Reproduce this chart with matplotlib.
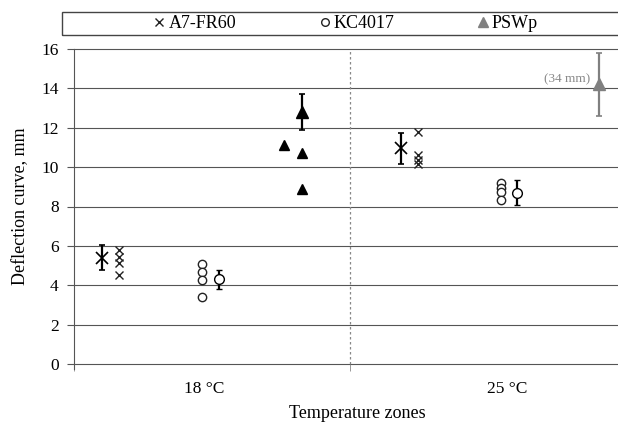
import matplotlib
matplotlib.use("Agg")
import matplotlib.pyplot as plt
from matplotlib.lines import Line2D
from matplotlib.patches import Rectangle

plt.rcParams['font.family'] = ['Liberation Serif', 'DejaVu Serif']

# zone labels and where they sit on the x axis (zone 0 spans 0..1, zone 1 spans 1..2)
zones = ['18 °C', '25 °C']
zone_label_x = [0.47, 1.57]

# A7-FR60 : individual results and mean +/- spread
a7_18 = [5.8, 5.45, 5.15, 4.5]
a7_25 = [11.8, 10.6, 10.35, 10.15]
a7_ind_x = [0.164, 1.245]
a7_mean = [5.4, 10.95]
a7_err = [0.65, 0.8]
a7_mean_x = [0.100, 1.185]

# KC4017
kc_18 = [5.1, 4.65, 4.25, 3.4]
kc_25 = [9.2, 8.95, 8.75, 8.35]
kc_ind_x = [0.465, 1.546]
kc_mean = [4.3, 8.7]
kc_err = [0.5, 0.63]
kc_mean_x = [0.526, 1.606]

# PSWp (only 18 °C individual points visible, 25 °C mean is off scale -> 34 mm)
psw_18 = [11.1, 10.7, 8.9]
psw_18_x = [0.762, 0.825, 0.825]
psw_mean = [12.8, 14.2]
psw_err = [0.9, 1.6]
psw_mean_x = [0.825, 1.902]
psw_note = '(34 mm)'

fig = plt.figure(figsize=(6.18, 4.22), dpi=100)
ax = fig.add_axes([74/618, 58/422, 544/618, 315/422])

grid_c = '#555555'
for y in range(0, 17, 2):
    ax.axhline(y, color=grid_c, lw=0.8, zorder=1, clip_on=False)
ax.axvline(1.0, color='#888888', lw=0.9, ls=(0, (2, 2)), zorder=1)

# individual results
for xs, vals in [(a7_ind_x[0], a7_18), (a7_ind_x[1], a7_25)]:
    ax.plot([xs] * len(vals), vals, ls='none', marker='x', ms=6, mew=1.0,
            color='#222222', zorder=3)
for xs, vals in [(kc_ind_x[0], kc_18), (kc_ind_x[1], kc_25)]:
    ax.plot([xs] * len(vals), vals, ls='none', marker='o', ms=6, mew=1.0,
            mfc='white', color='#222222', zorder=3)
ax.plot(psw_18_x, psw_18, ls='none', marker='^', ms=6.5, color='black', zorder=3)

# means with error bars
ax.errorbar(a7_mean_x, a7_mean, yerr=a7_err, fmt='x', ms=8, mew=1.2,
            color='black', ecolor='black', elinewidth=1.6, capsize=2.5,
            capthick=1.2, zorder=4)
ax.errorbar(kc_mean_x, kc_mean, yerr=kc_err, fmt='o', ms=7, mew=1.0,
            mfc='white', color='black', ecolor='black', elinewidth=1.6,
            capsize=2.5, capthick=1.2, zorder=4)
ax.errorbar(psw_mean_x[:1], psw_mean[:1], yerr=psw_err[:1], fmt='^', ms=8,
            color='black', ecolor='black', elinewidth=1.6, capsize=2.5,
            capthick=1.2, zorder=4)
ax.errorbar(psw_mean_x[1:], psw_mean[1:], yerr=psw_err[1:], fmt='^', ms=8,
            color='#808080', ecolor='#808080', elinewidth=1.6, capsize=2.5,
            capthick=1.2, zorder=4)
ax.text(psw_mean_x[1] - 0.032, psw_mean[1] + 0.25, psw_note, ha='right',
        va='center', fontsize=9.5, color='#8a8a8a')

ax.set_xlim(0, 544/276)
ax.set_ylim(0, 16)
ax.set_yticks(range(0, 17, 2))
ax.set_xticks(zone_label_x)
ax.set_xticklabels(zones)
ax.set_xticks([0, 1], minor=True)
ax.tick_params(axis='x', which='major', length=0, labelsize=12.5, pad=12)
ax.tick_params(axis='x', which='minor', length=5, color='#888888')
ax.tick_params(axis='y', length=5, color='#555555', labelsize=12.5, pad=6)
for s in ['top', 'right', 'bottom']:
    ax.spines[s].set_visible(False)
ax.spines['left'].set_color('#555555')
ax.spines['left'].set_bounds(-0.25, 16)
ax.set_ylabel('Deflection curve, mm', fontsize=13, labelpad=9)
fig.text(357/618, 1 - 413/422, 'Temperature zones', ha='center', va='center',
         fontsize=13)

# legend box across the top
fig.patches.append(Rectangle((62/618, 1 - 35/422), 0.99, 23/422,
                             transform=fig.transFigure, fill=False,
                             edgecolor='#444444', lw=1.0))
handles = [
    Line2D([], [], ls='none', marker='x', ms=6, mew=1.0, color='#222222'),
    Line2D([], [], ls='none', marker='o', ms=5.5, mew=1.0, mfc='white', color='#222222'),
    Line2D([], [], ls='none', marker='^', ms=6.5, color='#808080'),
]
fig.legend(handles, ['A7-FR60', 'KC4017', 'PSWp'], loc='center',
           bbox_to_anchor=(346/618, 1 - 23.5/422), ncol=3, frameon=False,
           fontsize=13, columnspacing=4.6, handlelength=0.6, handletextpad=0.2)

plt.savefig('out.png', dpi=100)
